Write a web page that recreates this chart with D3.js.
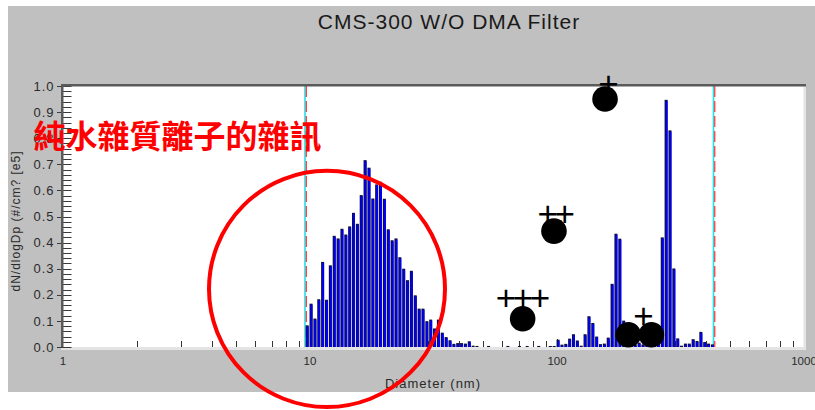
<!DOCTYPE html>
<html>
<head>
<meta charset="utf-8">
<script src="https://cdn.jsdelivr.net/npm/d3@7"></script>
<style>
  html, body { margin: 0; padding: 0; background: #fff; }
  svg { display: block; }
</style>
</head>
<body>
<svg id="chart" width="815" height="410"></svg>
<script>
// CMS-300 channel grid: log-spaced channels, 64 per decade, first channel midpoint in nm
const firstChannelNm = 9.74;
const channelsPerDecade = 64;

// dN/dlogDp per channel, in units of 1e5 #/cm3
const dNdlogDp = [
  0.083, 0.166, 0.109, 0.183, 0.326, 0.181, 0.313, 0.426, 0.416, 0.453,
  0.431, 0.462, 0.514, 0.472, 0.582, 0.716, 0.687, 0.569, 0.623, 0.633,
  0.568, 0.451, 0.409, 0.416, 0.344, 0.300, 0.256, 0.292, 0.198, 0.147,
  0.147, 0.099, 0.105, 0.071, 0.105, 0.055, 0.038, 0.026, 0.012, 0.015,
  0.015, 0.013, 0.022, 0.005, 0.004, 0, 0, 0.004, 0, 0,
  0, 0, 0.004, 0, 0, 0.004, 0, 0.004, 0, 0,
  0.004, 0, 0, 0.004, 0.004, 0.028, 0.009, 0.012, 0.032, 0.049,
  0.025, 0.005, 0.049, 0.118, 0.092, 0.040, 0.011, 0.013, 0.036, 0.242,
  0.434, 0.415, 0.101, 0.030, 0.020, 0.010, 0.017, 0.010, 0.010, 0.015,
  0.010, 0.020, 0.420, 0.947, 0.830, 0.301, 0.033, 0.005, 0.013, 0.013,
  0.030, 0.023, 0.058, 0.019, 0.013, 0.010
];

const xTickValues = [1, 10, 100, 1000];
const xTickLabels = ["1", "10", "100", "1000"];
const yTickValues = [0, 0.1, 0.2, 0.3, 0.4, 0.5, 0.6, 0.7, 0.8, 0.9, 1.0];
const yTickLabels = ["0.0", "0.1", "0.2", "0.3", "0.4", "0.5", "0.6", "0.7", "0.8", "0.9", "1.0"];

// lower / upper size limits of the scan (nm)
const sizeLimitsNm = [9.59, 432];

// marked points and their "+" ratings
const markerDiameters = [156.5, 97.2, 72.6, 194.4, 241.1];
const markerValues = [0.95, 0.444, 0.108, 0.047, 0.047];
const plusLabels = ["+", "++", "+++", "+"];
const plusDiameters = [156.7, 96.2, 70.5, 216.8];
const plusValues = [1.005, 0.506, 0.186, 0.115];

// circled region: diameter range (nm) and value range
const noiseRegionNm = [3.9, 35.2];
const noiseRegionValues = [-0.23, 0.675];
const noiseLabel = "純水雜質離子的雜訊";

const titleText = "CMS-300 W/O DMA Filter";
const xTitle = "Diameter (nm)";
const yTitle = "dN/dlogDp (#/cm? [e5]";

const svg = d3.select("#chart");
const W = 815, H = 410;
const plot = { left: 63, right: 804, top: 86, bottom: 347 };

const x = d3.scaleLog().domain([1, 1000]).range([plot.left, plot.right]);
const y = d3.scaleLinear().domain([0, 1]).range([plot.bottom, plot.top]);

const font = "'Liberation Sans', Arial, sans-serif";
const textColor = "#2a2a2a";

// outer panel
svg.append("rect").attr("x", 8).attr("y", 6).attr("width", W - 8).attr("height", 386)
  .attr("fill", "#c0c0c0");

// plot area
svg.append("rect")
  .attr("x", plot.left).attr("y", plot.top)
  .attr("width", plot.right - plot.left).attr("height", plot.bottom - plot.top)
  .attr("fill", "#ffffff");

// sunken frame: light bottom / right
svg.append("rect").attr("x", plot.left - 2).attr("y", plot.bottom)
  .attr("width", plot.right - plot.left + 4).attr("height", 3).attr("fill", "#e4e4e4");
svg.append("rect").attr("x", plot.right - 0.5).attr("y", plot.top - 2)
  .attr("width", 2.5).attr("height", plot.bottom - plot.top + 5).attr("fill", "#e4e4e4");

// x minor/major ticks along the bottom, pointing up
const xTickAll = [];
for (const dec of [1, 10, 100]) {
  for (let k = 1; k <= 9; k++) xTickAll.push(dec * k);
}
xTickAll.push(1000);
svg.append("g").selectAll("line").data(xTickAll.filter(v => v > 1 && v < 1000)).join("line")
  .attr("x1", d => Math.round(x(d)) + 0.5).attr("x2", d => Math.round(x(d)) + 0.5)
  .attr("y1", plot.bottom)
  .attr("y2", d => plot.bottom - (xTickValues.includes(d) ? 8 : 6))
  .attr("stroke", "#333").attr("stroke-width", 1);

// y ticks: minor every 0.02 inside, majors crossing the axis
const yMinor = d3.range(0, 51).map(k => k / 50);
svg.append("g").selectAll("line").data(yMinor).join("line")
  .attr("x1", d => (Math.round(d * 50) % 5 === 0) ? plot.left - 6 : plot.left)
  .attr("x2", plot.left + 8.5)
  .attr("y1", d => Math.round(y(d)) + 0.5).attr("y2", d => Math.round(y(d)) + 0.5)
  .attr("stroke", "#3a3a3a").attr("stroke-width", 1);

// size limit markers
const limits = svg.append("g");
sizeLimitsNm.forEach(v => {
  const xx = x(v);
  limits.append("line").attr("x1", xx - 0.5).attr("x2", xx - 0.5)
    .attr("y1", plot.top).attr("y2", plot.bottom)
    .attr("stroke", "#22e0e8").attr("stroke-width", 1.6);
  limits.append("line").attr("x1", xx + 0.8).attr("x2", xx + 0.8)
    .attr("y1", plot.top).attr("y2", plot.bottom)
    .attr("stroke", "#ff3030").attr("stroke-width", 1.2)
    .attr("stroke-dasharray", "11,4");
});

// bars
const bars = dNdlogDp.map((v, i) => ({
  d: firstChannelNm * Math.pow(10, i / channelsPerDecade),
  v
})).filter(b => b.v > 0);

const barG = svg.append("g");
barG.selectAll("rect.edge").data(bars).join("rect")
  .attr("class", "edge")
  .attr("x", b => x(b.d) - 1.5)
  .attr("y", b => y(b.v))
  .attr("width", 3)
  .attr("height", b => Math.max(1, y(0) - y(b.v)))
  .attr("fill", "#101030");
barG.selectAll("rect.fill").data(bars.filter(b => y(0) - y(b.v) > 1.5)).join("rect")
  .attr("class", "fill")
  .attr("x", b => x(b.d) - 0.6)
  .attr("y", b => y(b.v) + 1)
  .attr("width", 2.1)
  .attr("height", b => y(0) - y(b.v) - 1)
  .attr("fill", "#0000f5");

// dark top and left axis lines
svg.append("rect").attr("x", plot.left - 2).attr("y", plot.top - 2)
  .attr("width", plot.right - plot.left + 4).attr("height", 2.5).attr("fill", "#5a5a5a");
svg.append("rect").attr("x", plot.left - 2).attr("y", plot.top - 2)
  .attr("width", 2.5).attr("height", plot.bottom - plot.top + 2).attr("fill", "#5a5a5a");

// tick labels
svg.append("g").selectAll("text").data(yTickValues).join("text")
  .attr("x", 54.5).attr("y", d => y(d) + 4.6)
  .attr("text-anchor", "end")
  .attr("font-family", font).attr("font-size", 13).attr("letter-spacing", 1)
  .attr("fill", textColor)
  .text((d, i) => yTickLabels[i]);

svg.append("g").selectAll("text").data(xTickValues).join("text")
  .attr("x", d => x(d)).attr("y", 365)
  .attr("text-anchor", "middle")
  .attr("font-family", font).attr("font-size", 11.5)
  .attr("fill", textColor)
  .text((d, i) => xTickLabels[i]);

// titles
svg.append("text").attr("x", 449).attr("y", 28.5)
  .attr("text-anchor", "middle")
  .attr("font-family", font).attr("font-size", 21).attr("letter-spacing", 1)
  .attr("fill", "#1a1a1a").text(titleText);

svg.append("text").attr("x", 433).attr("y", 387.5)
  .attr("text-anchor", "middle")
  .attr("font-family", font).attr("font-size", 13).attr("letter-spacing", 1)
  .attr("fill", textColor).text(xTitle);

svg.append("text")
  .attr("transform", "translate(20.2,221) rotate(-90)")
  .attr("text-anchor", "middle")
  .attr("font-family", font).attr("font-size", 12).attr("letter-spacing", 1)
  .attr("fill", textColor).text(yTitle);

// marked points
svg.append("g").selectAll("circle").data(markerDiameters).join("circle")
  .attr("cx", d => x(d))
  .attr("cy", (d, i) => y(markerValues[i]))
  .attr("r", 12.8)
  .attr("fill", "#000");

svg.append("g").selectAll("text").data(plusLabels).join("text")
  .attr("x", (d, i) => x(plusDiameters[i]) + 1.7)
  .attr("y", (d, i) => y(plusValues[i]) + 11.5)
  .attr("text-anchor", "middle")
  .attr("font-family", font).attr("font-size", 35).attr("letter-spacing", -3.4)
  .attr("fill", "#000")
  .text(d => d);

// circled noise region
const ex0 = x(noiseRegionNm[0]), ex1 = x(noiseRegionNm[1]);
const ey0 = y(noiseRegionValues[1]), ey1 = y(noiseRegionValues[0]);
svg.append("ellipse")
  .attr("cx", (ex0 + ex1) / 2).attr("cy", (ey0 + ey1) / 2)
  .attr("rx", (ex1 - ex0) / 2).attr("ry", (ey1 - ey0) / 2)
  .attr("fill", "none").attr("stroke", "#ff0000").attr("stroke-width", 4);

svg.append("text").attr("x", 33.5).attr("y", 148)
  .attr("font-family", "'Noto Sans CJK TC', 'Noto Sans CJK SC', sans-serif")
  .attr("font-weight", 700).attr("font-size", 32)
  .attr("fill", "#ff0000")
  .text(noiseLabel);
</script>
</body>
</html>
